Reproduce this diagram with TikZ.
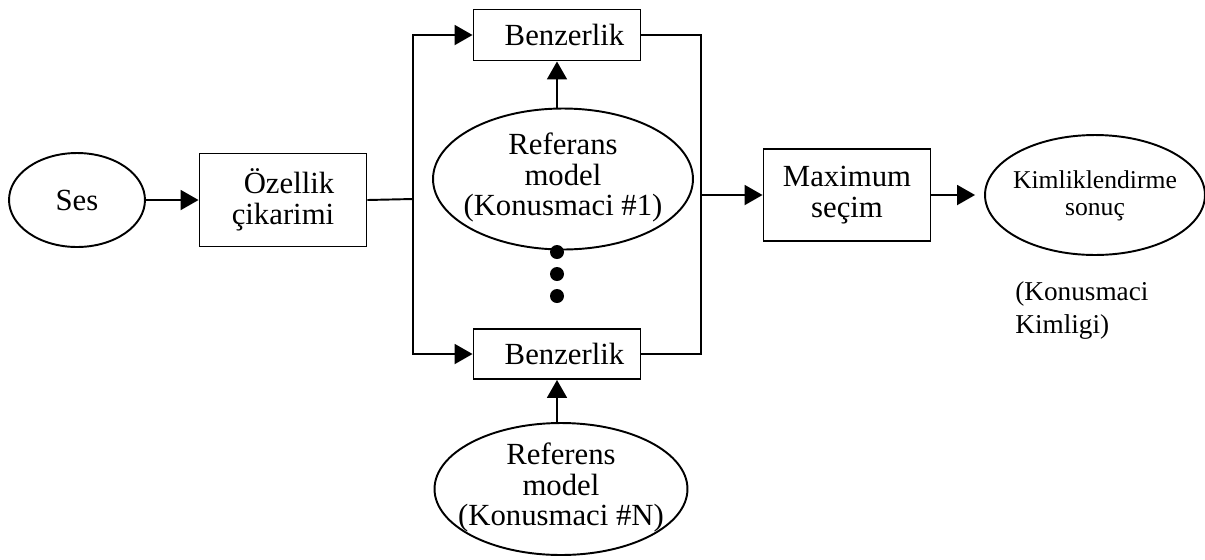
\documentclass[tikz,border=0pt]{standalone}
\usepackage{fontspec}
\setmainfont{Liberation Serif}
\usetikzlibrary{arrows.meta,shapes.geometric}
\newcommand{\ortala}[1]{\smash{\makebox[0pt]{\raisebox{-0.15cm}{\begin{tabular}{@{}c@{}}#1\end{tabular}}}}}
\tikzset{
	kutu/.style={draw, line width=1.1pt, rectangle, minimum width=3.34cm, inner sep=0pt, align=center},
	elips/.style={draw, line width=1.1pt, ellipse, inner sep=0pt},
	ok/.style={line width=1.1pt, -{Triangle[length=0.36cm,width=0.4cm]}},
	hat/.style={line width=1.1pt}
}

\begin{document}
\begin{tikzpicture}[x=0.02cm, y=-0.02cm, font=\fontsize{17.5}{17.5}\selectfont]
		%%%%% START %%%%%
		\useasboundingbox (0,0) rectangle (1205,559);
		
		\node[elips, minimum width=2.72cm, minimum height=1.88cm] (ses) at (77,200) {Ses};
		\node[kutu, minimum height=1.86cm] (ozellik) at (283,200) {\hspace*{0.24cm}Özellik\\çikarimi};
		
		\node[kutu, minimum height=1.02cm] (benz1) at (557,35) {\hspace*{0.3cm}Benzerlik};
		\node[elips, minimum width=5.2cm, minimum height=2.82cm] (ref1) at (563,179) {\ortala{Referans\\model\\(Konusmaci \#1)}};
		\foreach \y in {252,274,296}
			\fill (557,\y) circle (0.14cm);
		
		\node[kutu, minimum height=1.0cm] (benzN) at (557,354) {\hspace*{0.3cm}Benzerlik};
		\node[elips, minimum width=5.06cm, minimum height=2.64cm] (refN) at (561,489) {\ortala{Referens\\model\\(Konusmaci \#N)}};
		
		\node[kutu, minimum height=1.84cm] (maks) at (847,195) {Maximum\\seçim};
		\node[elips, minimum width=4.4cm, minimum height=2.4cm, font=\fontsize{14.6}{15.5}\selectfont] (sonuc) at (1095,195) {\ortala{Kimliklendirme\\sonuç}};
		\node[anchor=north west, inner sep=0pt, align=left, font=\fontsize{15.5}{18.7}\selectfont] (kimlik) at (1015,281) {(Konusmaci\\Kimligi)};
		
		\coordinate (solbus) at (413,199);
		\coordinate (sagbus) at (701,195);
		
		\draw[ok] (ses) -- (ozellik);
		\draw[hat] (ozellik.east) -- (solbus);
		\draw[ok] (solbus) |- (benz1.west);
		\draw[ok] (solbus) |- (benzN.west);
		
		\draw[ok] (benz1.south |- ref1.north) -- (benz1.south);
		\draw[ok] (benzN.south |- refN.north) -- (benzN.south);
		
		\draw[hat] (benz1.east) -| (sagbus);
		\draw[hat] (benzN.east) -| (sagbus);
		\draw[ok] (sagbus) -- (maks);
		\draw[ok, shorten >=0.18cm] (maks) -- (sonuc);
		
		%%%%% END %%%%%
\end{tikzpicture}
\end{document}
